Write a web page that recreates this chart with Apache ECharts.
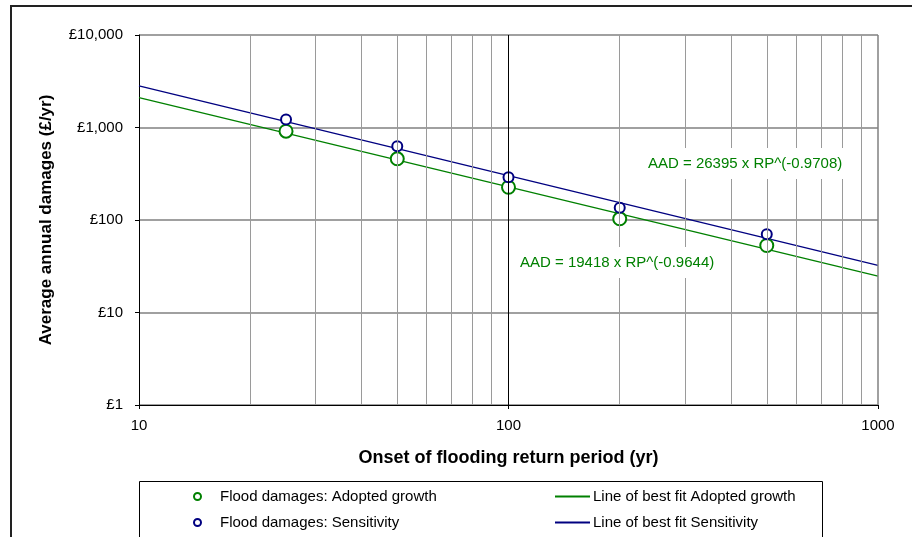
<!DOCTYPE html>
<html>
<head>
<meta charset="utf-8">
<script src="https://cdn.jsdelivr.net/npm/echarts@6/dist/echarts.min.js"></script>
<style>
html,body{margin:0;padding:0;background:#fff;}
#chart{width:912px;height:537px;}
</style>
</head>
<body>
<div id="chart"></div>
<script>
// Data
const returnPeriods = [25, 50, 100, 200, 500];
const adoptedDamages = [912, 459, 226, 103, 53];
const sensitivityDamages = [1220, 628, 290, 136, 70];
// Lines of best fit (end points)
const fitReturnPeriods = [10, 1000];
const fitAdopted = [2108, 24.8];
const fitSensitivity = [2823, 32.3];
// Grid positions
const minorGridX = [20, 30, 40, 50, 60, 70, 80, 90, 200, 300, 400, 500, 600, 700, 800, 900];
const majorGridX = [100];
const edgeGridX = [1000];
const labelAdopted = 'AAD = 19418 x RP^(-0.9644)';
const labelSensitivity = 'AAD = 26395 x RP^(-0.9708)';

const FONT = 'Liberation Sans, Arial, sans-serif';
const GREEN = '#008000';
const BLUE = '#000080';

const zip = (xs, ys) => xs.map((x, i) => [x, ys[i]]);

const chart = echarts.init(document.getElementById('chart'), null, {renderer: 'canvas'});
chart.setOption({
  animation: false,
  backgroundColor: '#fff',
  textStyle: {fontFamily: FONT},
  grid: {left: 139, right: 34, top: 35, bottom: 132, containLabel: false},
  xAxis: {
    type: 'log', logBase: 10, min: 10, max: 1000,
    name: 'Onset of flooding return period (yr)',
    nameLocation: 'middle', nameGap: 44,
    nameTextStyle: {fontFamily: FONT, fontSize: 18, fontWeight: 'bold', color: '#000'},
    axisLine: {show: true, onZero: false, lineStyle: {color: '#000', width: 1}},
    axisTick: {show: true, inside: false, length: 4, lineStyle: {color: '#000'}},
    axisLabel: {fontFamily: FONT, fontSize: 15, color: '#000', margin: 13,
      formatter: v => String(Math.round(v))},
    splitLine: {show: false}
  },
  yAxis: {
    type: 'log', logBase: 10, min: 1, max: 10000,
    name: 'Average annual damages (£/yr)',
    nameLocation: 'middle', nameGap: 84,
    nameTextStyle: {fontFamily: FONT, fontSize: 17, fontWeight: 'bold', color: '#000'},
    axisLine: {show: true, lineStyle: {color: '#000', width: 1}},
    axisTick: {show: true, inside: false, length: 4, lineStyle: {color: '#000'}},
    axisLabel: {fontFamily: FONT, fontSize: 15, color: '#000', margin: 16,
      formatter: v => '£' + Math.round(v).toLocaleString('en-GB')},
    splitLine: {show: true, lineStyle: {color: '#808080', width: 1.5}}
  },
  legend: [
    {
      data: ['Flood damages: Adopted growth', 'Flood damages: Sensitivity'],
      orient: 'vertical', left: 193, top: 489, padding: 0, height: 48,
      itemWidth: 7, itemHeight: 7, itemGap: 11,
      textStyle: {fontFamily: FONT, fontSize: 15, color: '#000', padding: [0, 0, 0, 14]},
      selectedMode: false
    },
    {
      data: [
        {name: 'Line of best fit Adopted growth', icon: 'rect'},
        {name: 'Line of best fit Sensitivity', icon: 'rect'}
      ],
      orient: 'vertical', left: 555, top: 489, padding: 0, height: 48,
      itemWidth: 35, itemHeight: 2, itemGap: 11,
      textStyle: {fontFamily: FONT, fontSize: 15, color: '#000', padding: [0, 0, 0, -2]},
      selectedMode: false
    }
  ],
  series: [
    {
      name: 'Grid', type: 'line', data: [], silent: true,
      markLine: {
        silent: true, symbol: 'none', label: {show: false}, animation: false,
        data: [
          ...minorGridX.map(v => ({xAxis: v, lineStyle: {color: '#9a9a9a', width: 1, type: 'solid'}})),
          ...majorGridX.map(v => ({xAxis: v, lineStyle: {color: '#000', width: 1, type: 'solid'}})),
          ...edgeGridX.map(v => ({xAxis: v, lineStyle: {color: '#808080', width: 1.5, type: 'solid'}}))
        ]
      }
    },
    {
      name: 'Line of best fit Adopted growth', type: 'line',
      data: zip(fitReturnPeriods, fitAdopted), symbol: 'none', showSymbol: false, clip: false,
      lineStyle: {color: GREEN, width: 1.3}, itemStyle: {color: GREEN}, z: 3
    },
    {
      name: 'Line of best fit Sensitivity', type: 'line',
      data: zip(fitReturnPeriods, fitSensitivity), symbol: 'none', showSymbol: false, clip: false,
      lineStyle: {color: BLUE, width: 1.3}, itemStyle: {color: BLUE}, z: 3
    },
    {
      name: 'Flood damages: Adopted growth', type: 'scatter',
      data: zip(returnPeriods, adoptedDamages),
      symbol: 'emptyCircle', symbolSize: 13,
      itemStyle: {color: GREEN, borderColor: GREEN, borderWidth: 1.5, opacity: 1}, z: 4
    },
    {
      name: 'Flood damages: Sensitivity', type: 'scatter',
      data: zip(returnPeriods, sensitivityDamages),
      symbol: 'emptyCircle', symbolSize: 10,
      itemStyle: {color: BLUE, borderColor: BLUE, borderWidth: 1.5, opacity: 1}, z: 4
    }
  ],
  graphic: [
    {type: 'rect', z: 0, silent: true,
      shape: {x: 11, y: 6, width: 1000, height: 1000},
      style: {fill: 'none', stroke: '#222', lineWidth: 2}},
    {type: 'rect', z: 100, silent: true,
      shape: {x: 139.5, y: 481.5, width: 683, height: 100},
      style: {fill: 'none', stroke: '#000', lineWidth: 1}},
    {type: 'text', z: 100, silent: true, left: 640, top: 148,
      style: {text: labelSensitivity, fill: GREEN, font: '15px ' + FONT,
        backgroundColor: '#fff', padding: [8, 10, 8, 8]}},
    {type: 'text', z: 100, silent: true, left: 512, top: 247,
      style: {text: labelAdopted, fill: GREEN, font: '15px ' + FONT,
        backgroundColor: '#fff', padding: [8, 10, 8, 8]}}
  ]
});
</script>
</body>
</html>
